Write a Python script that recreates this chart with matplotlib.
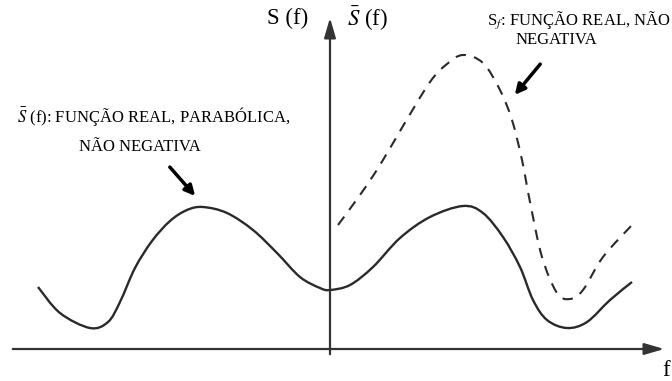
import numpy as np
import matplotlib.pyplot as plt
from matplotlib.path import Path
from matplotlib.patches import PathPatch

plt.rcParams['font.family'] = ['Liberation Serif', 'DejaVu Serif']
plt.rcParams['mathtext.fontset'] = 'stix'

f_solid = [-292, -270, -240, -222, -210, -195, -178, -160, -143, -127, -103, -77, -53, -30, -10, 0,
           20, 43, 70, 100, 133, 153, 173, 190, 203, 217, 237, 257, 280, 302]
s_solid = [65, 39, 24, 30, 50, 84, 111, 131, 142, 145, 139, 122, 99, 75, 64, 62,
           67, 85, 114, 135, 146, 139, 115, 85, 52, 32, 24, 30, 52, 70]

f_dash = [8, 30, 50, 73, 100, 117, 133, 153, 170, 182, 192, 200, 212, 227, 240, 253, 273, 302]
s_dash = [127, 157, 187, 226, 270, 288, 297, 289, 262, 232, 192, 150, 95, 59, 53, 62, 95, 127]


def smooth_path(xs, ys):
    # Catmull-Rom through the read points, drawn as cubic Bezier segments
    p = np.column_stack([xs, ys]).astype(float)
    p = np.vstack([p[0], p, p[-1]])
    verts = [p[1]]
    codes = [Path.MOVETO]
    for i in range(1, len(p) - 2):
        c1 = p[i] + (p[i + 1] - p[i - 1]) / 6
        c2 = p[i + 1] - (p[i + 2] - p[i]) / 6
        verts += [c1, c2, p[i + 1]]
        codes += [Path.CURVE4] * 3
    return Path(verts, codes)


fig = plt.figure(figsize=(6.72, 3.81), dpi=100)
ax = fig.add_axes([0, 0, 1, 1])
ax.set_xlim(-330, 342)
ax.set_ylim(-29, 352)
ax.axis('off')

# axes with arrowheads
ax.annotate('', xy=(337, 3), xytext=(-320, 3),
            arrowprops=dict(arrowstyle='-|>,head_length=1.2,head_width=0.35', color='#333333', lw=1.6))
ax.annotate('', xy=(0, 337), xytext=(0, -5),
            arrowprops=dict(arrowstyle='-|>,head_length=1.2,head_width=0.35', color='#333333', lw=1.6))

ax.add_patch(PathPatch(smooth_path(f_solid, s_solid), fill=False, ec='#2a2a2a', lw=1.7))
ax.add_patch(PathPatch(smooth_path(f_dash, s_dash), fill=False, ec='#2a2a2a', lw=1.5,
                       ls=(0, (5, 4))))

ax.text(-42, 334, 'S (f)', fontsize=16.5, ha='center', va='center')
ax.text(38, 334, r'$\bar{S}$ (f)', fontsize=16.5, ha='center', va='center')
ax.text(336, -19, 'f', fontsize=16.5, ha='center', va='center')

ax.text(-313, 235, r'$\bar{S}$ (f): FUNÇÃO REAL, PARABÓLICA,', fontsize=12, ha='left', va='center')
ax.text(-190, 205, 'NÃO NEGATIVA', fontsize=12, ha='center', va='center')
ax.annotate('', xy=(-133, 154), xytext=(-162, 187),
            arrowprops=dict(arrowstyle='-|>,head_length=0.6,head_width=0.3', color='black', lw=2.5))

ax.text(157, 332, r'S$_f$: FUNÇÃO REAL, NÃO', fontsize=12, ha='left', va='center')
ax.text(226, 312, 'NEGATIVA', fontsize=12, ha='center', va='center')
ax.annotate('', xy=(183, 255), xytext=(212, 290),
            arrowprops=dict(arrowstyle='-|>,head_length=0.6,head_width=0.3', color='black', lw=2.5))

fig.savefig('out.png', dpi=100)
